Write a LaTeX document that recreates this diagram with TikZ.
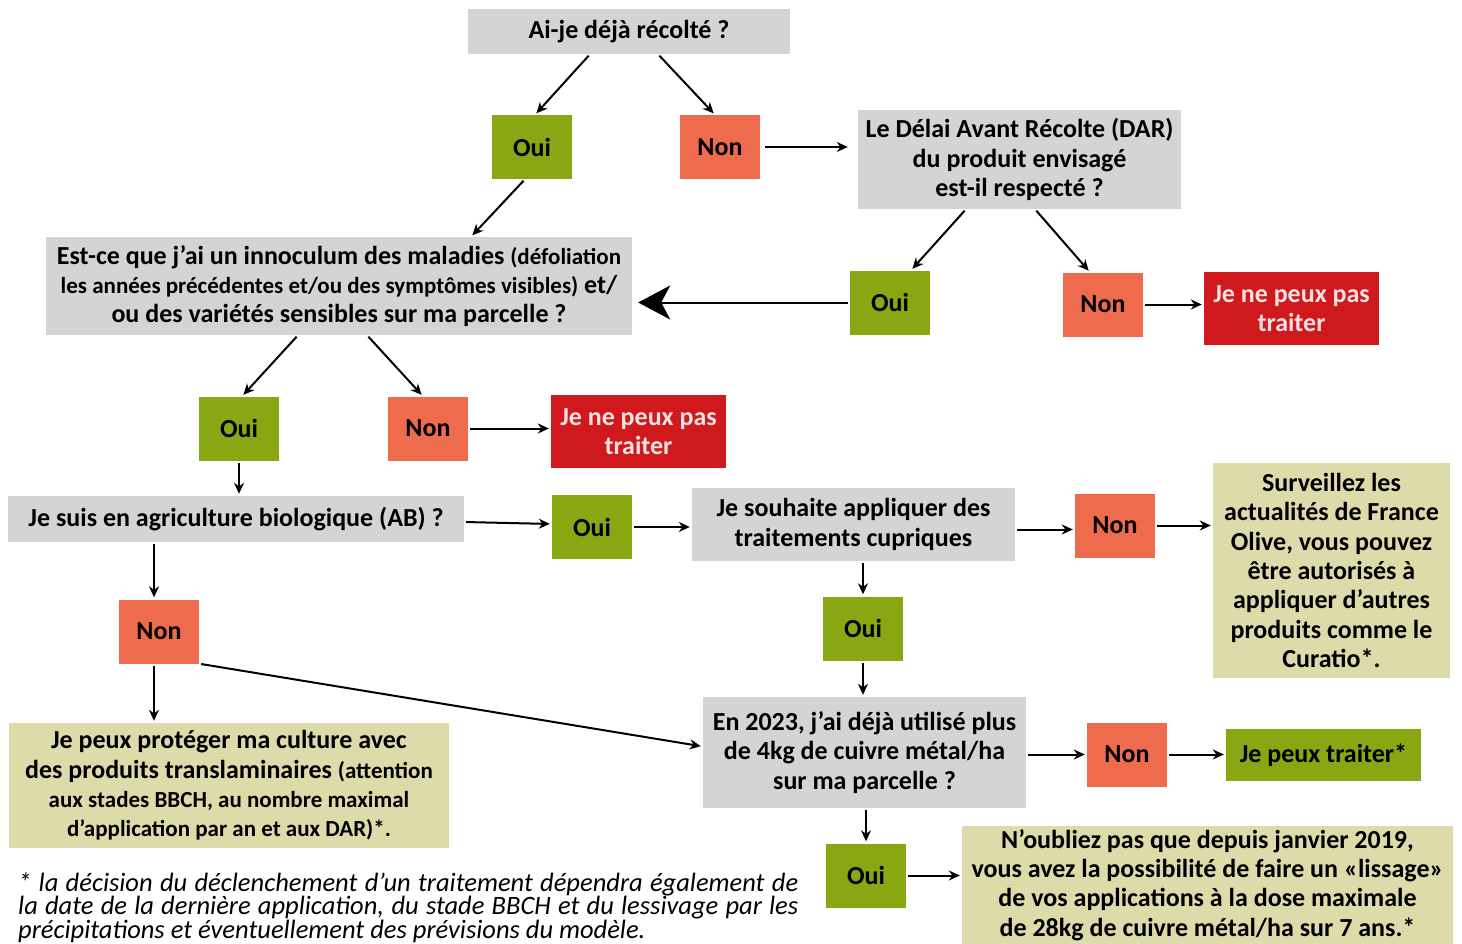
\documentclass[tikz,border=0pt]{standalone}
\usepackage{fontspec}
\setmainfont{Carlito}
\usetikzlibrary{arrows.meta}
\definecolor{qgris}{HTML}{D2D5D3}
\definecolor{vertoui}{HTML}{89A713}
\definecolor{orangenon}{HTML}{EE6B4D}
\definecolor{rougestop}{HTML}{CF191D}
\definecolor{rosetexte}{HTML}{F4E1E1}
\definecolor{beige}{HTML}{DEDBAB}
\newcommand{\petit}{\fontsize{23}{29}\selectfont}
\begin{document}
\begin{tikzpicture}[x=1pt,y=-1pt]
	\tikzstyle{every node}+=[inner sep=0pt, font=\fontsize{26}{29.3}\selectfont\bfseries, align=center]
	\tikzstyle{question}=[fill=qgris]
	\tikzstyle{oui}=[fill=vertoui, minimum width=80, minimum height=64]
	\tikzstyle{non}=[fill=orangenon, minimum width=80, minimum height=64]
	\tikzstyle{bloque}=[fill=rougestop, text=rosetexte, minimum width=175, minimum height=73]
	\tikzstyle{conseil}=[fill=beige]
	\tikzstyle{fleche}=[black, line width=2pt, -{Stealth[length=11pt,width=10pt]}, shorten <=2pt, shorten >=2pt]
	\tikzstyle{grossefleche}=[black, line width=2pt, -{Stealth[length=32pt,width=34pt,inset=9pt]}, shorten <=2pt, shorten >=6pt]
	\useasboundingbox (0,0) rectangle (1462,944);
	\node[question, minimum width=322, minimum height=45] (recolte) at (629,31.5) {Ai-je déjà récolté ?};
	\node[oui] (ouiA) at (532,147) {Oui};
	\node[non] (nonA) at (720,147) {Non};
	\node[question, minimum width=323, minimum height=99] (dar) at (1019.5,159.5) {Le Délai Avant Récolte (DAR)\\du produit envisagé\\est-il respecté ?};
	\node[question, minimum width=586, minimum height=98] (innoc) at (339,286) {Est-ce que j'ai un innoculum des maladies {\petit(défoliation}\\{\petit les années précédentes et/ou des symptômes visibles)} et/\\ou des variétés sensibles sur ma parcelle ?};
	\node[oui] (ouiB) at (890,302.5) {Oui};
	\node[non] (nonB) at (1103,304.5) {Non};
	\node[bloque] (stopA) at (1291.5,308.5) {Je ne peux pas\\traiter};
	\node[oui] (ouiC) at (239,428.5) {Oui};
	\node[non] (nonC) at (428,428.5) {Non};
	\node[bloque] (stopB) at (638.5,431.5) {Je ne peux pas\\traiter};
	\node[question, minimum width=456, minimum height=46] (ab) at (236,519) {Je suis en agriculture biologique (AB) ?};
	\node[oui] (ouiD) at (592,527) {Oui};
	\node[question, minimum width=323, minimum height=73] (cuivre) at (853.5,524.5) {Je souhaite appliquer des\\traitements cupriques};
	\node[non] (nonD) at (1115,525.5) {Non};
	\node[conseil, minimum width=237, minimum height=215] (surv) at (1331.5,570.5) {Surveillez les\\actualités de France\\Olive, vous pouvez\\être autorisés à\\appliquer d'autres\\produits comme le\\Curatio*.};
	\node[oui] (ouiE) at (863,628.5) {Oui};
	\node[non] (nonE) at (159,631.5) {Non};
	\node[question, minimum width=323, minimum height=111] (annee) at (864.5,752.5) {En 2023, j'ai déjà utilisé plus\\de 4kg de cuivre métal/ha\\sur ma parcelle ?};
	\node[non] (nonF) at (1127,754.5) {Non};
	\node[oui, minimum width=195, minimum height=52] (traiter) at (1323.5,755) {Je peux traiter*};
	\node[conseil, minimum width=440, minimum height=125] (proteger) at (229,785.5) {Je peux protéger ma culture avec\\des produits translaminaires {\petit(attention}\\{\petit aux stades BBCH, au nombre maximal}\\{\petit d'application par an et aux DAR)*.}};
	\node[oui] (ouiF) at (866,875.5) {Oui};
	\node[conseil, minimum width=491, minimum height=118] (lissage) at (1207.5,885) {N'oubliez pas que depuis janvier 2019,\\vous avez la possibilité de faire un «lissage»\\de vos applications à la dose maximale\\de 28kg de cuivre métal/ha sur 7 ans.*};
	\node[anchor=north west, text width=780, align=justify, font=\fontsize{26.5}{23.8}\selectfont\itshape] (renvoi) at (18,872) {* la décision du déclenchement d'un traitement dépendra également de\linebreak la date de la dernière application, du stade BBCH et du lessivage par les\linebreak précipitations et éventuellement des prévisions du modèle.};
	\draw[fleche] ([xshift=-39pt]recolte.south) -- ([xshift=3pt]ouiA.north);
	\draw[fleche] ([xshift=29pt]recolte.south) -- ([xshift=-5pt]nonA.north);
	\draw[fleche, shorten <=5pt, shorten >=10pt] (nonA.east) -- (nonA.east -| dar.west);
	\draw[fleche] ([xshift=-7pt]ouiA.south) -- ([xshift=132pt]innoc.north);
	\draw[fleche] ([xshift=-53.5pt]dar.south) -- ([xshift=21pt]ouiB.north);
	\draw[fleche] ([xshift=15.5pt]dar.south) -- ([xshift=-13pt]nonB.north);
	\draw[grossefleche] (ouiB.west) -- (ouiB.west -| innoc.east);
	\draw[fleche] (nonB.east) -- (nonB.east -| stopA.west);
	\draw[fleche] ([xshift=-41pt]innoc.south) -- ([xshift=3pt]ouiC.north);
	\draw[fleche] ([xshift=28pt]innoc.south) -- ([xshift=-5pt]nonC.north);
	\draw[fleche] (nonC.east) -- (nonC.east -| stopB.west);
	\draw[fleche] (ouiC.south) -- (ouiC.south |- ab.north);
	\draw[fleche] ([yshift=-3pt]ab.east) -- ([yshift=3pt]ouiD.west);
	\draw[fleche] (ouiD.east) -- (ouiD.east -| cuivre.west);
	\draw[fleche] ([yshift=-5pt]cuivre.east) -- ([yshift=-4pt]nonD.west);
	\draw[fleche] (nonD.east) -- (nonD.east -| surv.west);
	\draw[fleche] ([xshift=-82pt]ab.south) -- ([xshift=-5pt]nonE.north);
	\draw[fleche] (ouiE.north |- cuivre.south) -- (ouiE.north);
	\draw[fleche] (ouiE.south) -- (ouiE.south |- annee.north);
	\draw[fleche] ([xshift=-5pt]nonE.south) -- ([xshift=-5pt]nonE.south |- proteger.north);
	\draw[fleche] (nonE.south east) -- ([yshift=6pt]annee.west);
	\draw[fleche] ([yshift=-2pt]annee.east) -- (nonF.west);
	\draw[fleche] (nonF.east) -- (nonF.east -| traiter.west);
	\draw[fleche] (ouiF.north |- annee.south) -- (ouiF.north);
	\draw[fleche] (ouiF.east) -- (ouiF.east -| lissage.west);
\end{tikzpicture}
\end{document}
